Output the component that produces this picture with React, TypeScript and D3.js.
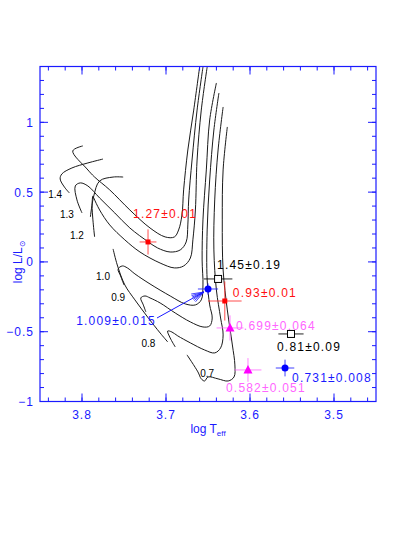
import React from "react";
import * as d3 from "d3";

// evolutionary tracks, [log Teff, log L/Lsun]
const tracks = [
  { mass: "1.4", pts: [[3.660,1.396],[3.667,1.088],[3.674,0.802],[3.679,0.516],[3.681,0.336],[3.685,0.229],[3.690,0.179],[3.701,0.179],[3.719,0.243],[3.743,0.372],[3.767,0.516],[3.785,0.608],[3.794,0.666],[3.811,0.795],[3.799,0.831]] },
  { mass: "1.4b", pts: [[3.775,0.737],[3.793,0.709],[3.812,0.673],[3.824,0.630],[3.826,0.594],[3.821,0.537],[3.815,0.494]] },
  { mass: "1.3", pts: [[3.656,1.396],[3.663,1.088],[3.669,0.730],[3.673,0.444],[3.674,0.265],[3.676,0.143],[3.683,0.086],[3.695,0.071],[3.710,0.100],[3.721,0.143],[3.743,0.243],[3.761,0.351],[3.779,0.458],[3.793,0.544],[3.802,0.566],[3.808,0.544],[3.806,0.444],[3.800,0.351]] },
  { mass: "1.2", pts: [[3.651,1.396],[3.658,1.088],[3.663,0.730],[3.665,0.372],[3.668,0.158],[3.671,0.028],[3.679,-0.029],[3.690,-0.043],[3.707,-0.008],[3.731,0.071],[3.749,0.158],[3.767,0.265],[3.779,0.372],[3.786,0.458],[3.787,0.472],[3.788,0.408],[3.787,0.301],[3.785,0.179]] },
  { mass: "1.2b", pts: [[3.790,0.322],[3.786,0.472],[3.779,0.580],[3.763,0.608],[3.751,0.608]] },
  { mass: "1.0", pts: [[3.640,1.282],[3.648,1.017],[3.652,0.659],[3.656,0.301],[3.657,0.014],[3.656,-0.165],[3.658,-0.272],[3.665,-0.308],[3.677,-0.301],[3.695,-0.244],[3.719,-0.158],[3.737,-0.086],[3.746,-0.043],[3.752,-0.029],[3.757,-0.051],[3.754,-0.101],[3.750,-0.165]] },
  { mass: "1.0b", pts: [[3.763,0.093],[3.758,-0.022],[3.749,-0.165],[3.737,-0.272],[3.721,-0.402],[3.707,-0.509],[3.698,-0.573]] },
  { mass: "0.9", pts: [[3.637,1.210],[3.643,0.945],[3.648,0.587],[3.651,0.229],[3.651,-0.129],[3.648,-0.308],[3.645,-0.402],[3.648,-0.459],[3.656,-0.466],[3.671,-0.430],[3.689,-0.366],[3.707,-0.294],[3.719,-0.258],[3.725,-0.244],[3.730,-0.258],[3.727,-0.308],[3.724,-0.358]] },
  { mass: "0.8", pts: [[3.632,1.110],[3.638,0.802],[3.642,0.444],[3.643,0.086],[3.640,-0.201],[3.635,-0.402],[3.632,-0.523],[3.635,-0.616],[3.642,-0.652],[3.654,-0.631],[3.671,-0.580],[3.686,-0.530],[3.693,-0.502],[3.698,-0.495],[3.695,-0.545],[3.689,-0.609]] },
  { mass: "0.7", pts: [[3.627,0.967],[3.632,0.659],[3.633,0.301],[3.632,-0.058],[3.627,-0.344],[3.621,-0.595],[3.618,-0.738],[3.619,-0.824],[3.626,-0.853],[3.638,-0.838],[3.650,-0.824],[3.654,-0.853],[3.658,-0.838],[3.662,-0.788],[3.675,-0.666]] },
];

// track mass labels
const massLabels = ["1.4", "1.3", "1.2", "1.0", "0.9", "0.8", "0.7"];
const massLabelT = [3.832, 3.818, 3.806, 3.775, 3.757, 3.721, 3.651];
const massLabelL = [0.480, 0.337, 0.186, -0.104, -0.254, -0.584, -0.799];

// observed stars
const starT = [3.7214, 3.638, 3.650, 3.630, 3.6238, 3.5512, 3.6024, 3.5583];
const starL = [0.143, -0.122, -0.194, -0.280, -0.473, -0.516, -0.774, -0.760];
const starErrT = [0.010, 0.017, 0.012, 0.020, 0.016, 0.015, 0.016, 0.011];
const starErrL = [0.09, 0, 0.04, 0.14, 0.09, 0, 0.085, 0.06];
const starMass = ["1.27±0.01", "1.45±0.19", "1.009±0.015", "0.93±0.01", "0.699±0.064", "0.81±0.09", "0.582±0.051", "0.731±0.008"];
const starKind = ["red", "box", "blue", "red", "tri", "box", "tri", "blue"];
const labelDx = [-15, -1, -52, 8, 6, -14, -22, 7];
const labelDy = [-24, -10, 36, -4, 2, 17, 22, 14];

const xTicks = [3.8, 3.7, 3.6, 3.5];
const xTickLabels = ["3.8", "3.7", "3.6", "3.5"];
const yTicks = [-1, -0.5, 0, 0.5, 1];
const yTickLabels = ["\u22121", "\u22120.5", "0", "0.5", "1"];

const W = 399, H = 533;
const BLUE = "#1a1aff";
const font = "'Liberation Sans', Arial, sans-serif";

const styleOf = (k: string) => {
  if (k === "red") return { fill: "#ff0000", bar: "#ff3030", text: "#ff1010" };
  if (k === "blue") return { fill: "#0000ff", bar: "#2020ff", text: "#1a1aff" };
  if (k === "tri") return { fill: "#ff00ff", bar: "#ff70ff", text: "#ff66ff" };
  return { fill: "none", bar: "#000", text: "#000" };
};

export default function App() {
  const x = d3.scaleLinear().domain([3.85, 3.45]).range([40, 376]);
  const y = d3.scaleLinear().domain([-1, 1.4]).range([401.5, 66.5]);
  const line = d3.line<number[]>().x((d) => x(d[0])).y((d) => y(d[1])).curve(d3.curveCatmullRom.alpha(0.5));

  const x0 = x.range()[0], x1 = x.range()[1];
  const yb = y.range()[0], yt = y.range()[1];
  const xMinor = d3.range(0, 20).map((i) => 3.46 + i * 0.02);
  const yMinor = d3.range(0, 24).map((i) => -0.9 + i * 0.1);

  // arrow from the 1.009 label to its star
  const ax0 = x(starT[2]) - 51, ay0 = y(starL[2]) + 29;
  const ax1 = x(starT[2]) - 4, ay1 = y(starL[2]) + 3;
  const ang = Math.atan2(ay1 - ay0, ax1 - ax0);
  const heads = [-0.35, -0.22, -0.1, 0.1, 0.22, 0.35].map((a) => [
    ax1 - 13 * Math.cos(ang + a),
    ay1 - 13 * Math.sin(ang + a),
  ]);

  return (
    <svg width={W} height={H} style={{ position: "absolute", left: 0, top: 0, background: "#fff" }} fontFamily={font}>
      <defs>
        <clipPath id="plot">
          <rect x={x0} y={yt} width={x1 - x0} height={yb - yt} />
        </clipPath>
      </defs>
      <g clipPath="url(#plot)">
        {tracks.map((t) => (
          <path key={t.mass} d={line(t.pts) || ""} fill="none" stroke="#1a1a1a" strokeWidth={1} />
        ))}
      </g>
      {massLabels.map((m, i) => (
        <text key={m} x={x(massLabelT[i])} y={y(massLabelL[i]) + 3.5} fontSize={10} textAnchor="middle" fill="#000">
          {m}
        </text>
      ))}

      {/* stars */}
      {starT.map((t, i) => {
        const s = styleOf(starKind[i]);
        const cx = x(t), cy = y(starL[i]);
        const ex = x(t - starErrT[i]) - cx;
        const ey = cy - y(starL[i] + starErrL[i]);
        return (
          <g key={i}>
            <line x1={cx - ex} x2={cx + ex} y1={cy} y2={cy} stroke={s.bar} strokeWidth={1} opacity={0.85} />
            {ey > 0 && <line x1={cx} x2={cx} y1={cy - ey} y2={cy + ey} stroke={s.bar} strokeWidth={1} opacity={0.85} />}
            {starKind[i] === "red" && <rect x={cx - 2.5} y={cy - 2.5} width={5} height={5} fill={s.fill} />}
            {starKind[i] === "blue" && <circle cx={cx} cy={cy} r={3.5} fill={s.fill} />}
            {starKind[i] === "tri" && (
              <path d={`M${cx},${cy - 5}L${cx + 4.5},${cy + 3.5}L${cx - 4.5},${cy + 3.5}Z`} fill={s.fill} />
            )}
            {starKind[i] === "box" && (
              <rect x={cx - 3.5} y={cy - 3.5} width={7} height={7} fill="#fff" stroke="#000" strokeWidth={1} />
            )}
            <text
              x={cx + labelDx[i]}
              y={cy + labelDy[i]}
              fontSize={12}
              letterSpacing={1.2}
              textAnchor={i === 2 ? "end" : "start"}
              fill={s.text}
            >
              {starMass[i]}
            </text>
          </g>
        );
      })}

      {/* arrow */}
      <line x1={ax0} y1={ay0} x2={ax1} y2={ay1} stroke={BLUE} strokeWidth={1} />
      {heads.map((h, i) => (
        <line key={i} x1={ax1} y1={ay1} x2={h[0]} y2={h[1]} stroke={BLUE} strokeWidth={0.8} />
      ))}

      {/* frame and ticks */}
      <rect x={x0} y={yt} width={x1 - x0} height={yb - yt} fill="none" stroke={BLUE} strokeWidth={1.2} />
      {xMinor.map((v, i) => (
        <g key={"xm" + i} stroke={BLUE}>
          <line x1={x(v)} x2={x(v)} y1={yb} y2={yb - 4} />
          <line x1={x(v)} x2={x(v)} y1={yt} y2={yt + 4} />
        </g>
      ))}
      {xTicks.map((v, i) => (
        <g key={"xM" + i}>
          <line x1={x(v)} x2={x(v)} y1={yb} y2={yb - 8} stroke={BLUE} />
          <line x1={x(v)} x2={x(v)} y1={yt} y2={yt + 8} stroke={BLUE} />
          <text x={x(v)} y={yb + 17} fontSize={12} letterSpacing={1} textAnchor="middle" fill={BLUE}>
            {xTickLabels[i]}
          </text>
        </g>
      ))}
      {yMinor.map((v, i) => (
        <g key={"ym" + i} stroke={BLUE}>
          <line x1={x0} x2={x0 + 4} y1={y(v)} y2={y(v)} />
          <line x1={x1} x2={x1 - 4} y1={y(v)} y2={y(v)} />
        </g>
      ))}
      {yTicks.map((v, i) => (
        <g key={"yM" + i}>
          <line x1={x0} x2={x0 + 8} y1={y(v)} y2={y(v)} stroke={BLUE} />
          <line x1={x1} x2={x1 - 8} y1={y(v)} y2={y(v)} stroke={BLUE} />
          <text x={x0 - 6} y={y(v) + 4.5} fontSize={12} letterSpacing={1} textAnchor="end" fill={BLUE}>
            {yTickLabels[i]}
          </text>
        </g>
      ))}

      {/* axis titles */}
      <text x={(x0 + x1) / 2} y={yb + 31} fontSize={12} textAnchor="middle" fill={BLUE}>
        log T<tspan fontSize={8} dy={3}>eff</tspan>
      </text>
      <text transform={`translate(22,${y(0)}) rotate(-90)`} fontSize={12} textAnchor="middle" fill={BLUE}>
        log L/L<tspan fontSize={8} dy={3} fontFamily="DejaVu Sans">⊙</tspan>
      </text>
    </svg>
  );
}
